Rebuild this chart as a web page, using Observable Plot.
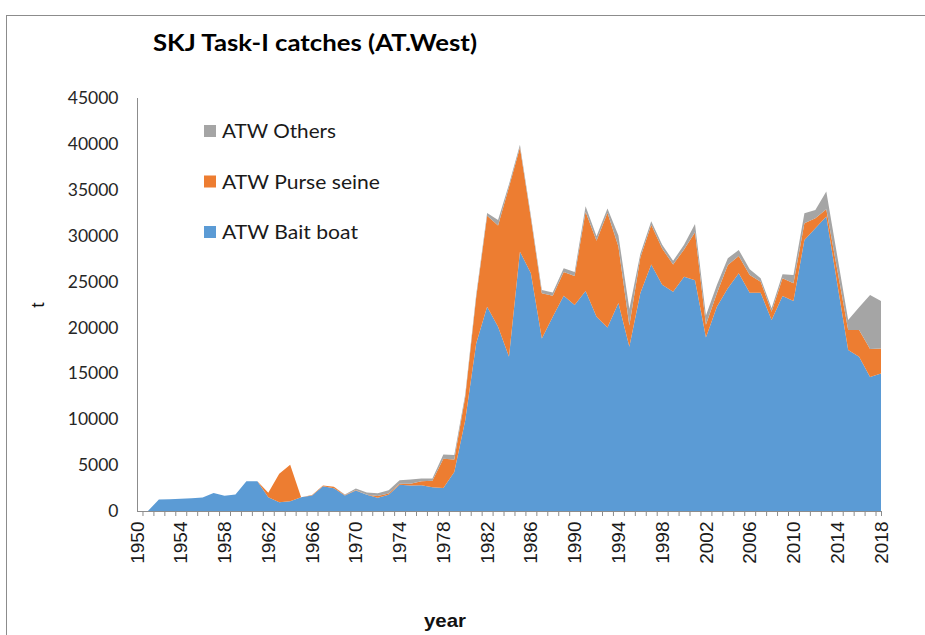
<!DOCTYPE html>
<html><head><meta charset="utf-8">
<script src="https://cdn.jsdelivr.net/npm/d3@7"></script>
<script src="https://cdn.jsdelivr.net/npm/@observablehq/plot@0.6"></script>
<style>
body{margin:0;background:#fff;}
#wrap{position:relative;width:925px;height:635px;overflow:hidden;background:#fff;}
#frame{position:absolute;left:6px;top:15px;width:930px;height:630px;border-top:1px solid #8c8c8c;border-left:1px solid #8c8c8c;}
#chart{position:absolute;left:0;top:0;}
#overlay{position:absolute;left:0;top:0;pointer-events:none;}
</style></head><body>
<div id="wrap"><div id="frame"></div><div id="chart"></div><svg id="overlay" width="925" height="635"></svg></div>
<script>
const years = [1950,1951,1952,1953,1954,1955,1956,1957,1958,1959,1960,1961,1962,1963,1964,1965,1966,1967,1968,1969,
  1970,1971,1972,1973,1974,1975,1976,1977,1978,1979,1980,1981,1982,1983,1984,1985,1986,1987,1988,1989,
  1990,1991,1992,1993,1994,1995,1996,1997,1998,1999,2000,2001,2002,2003,2004,2005,2006,2007,2008,2009,
  2010,2011,2012,2013,2014,2015,2016,2017,2018];
const baitBoat = [0,0,1250,1280,1330,1380,1480,1950,1650,1800,3250,3250,1500,950,1070,1500,1690,2700,2490,1700,
  2240,1770,1440,1770,2860,2780,2800,2600,2500,4250,9880,18250,22260,20070,16800,28260,25900,18800,21170,23460,
  22440,23970,21170,20000,22650,17890,23720,26850,24660,23900,25530,25130,18900,22260,24260,25900,23790,23790,20800,23420,
  22880,29540,30820,32080,24800,17530,16800,14610,14980];
const purseSeine = [0,0,0,0,0,0,0,0,0,0,0,0,500,3100,3970,0,50,80,150,50,
  50,0,200,150,100,200,450,700,3200,1350,2550,5000,9900,11030,18500,11340,6000,4920,2280,2590,
  3160,8630,8280,12500,6170,2310,3880,4340,3940,2960,2970,5240,1400,1460,2550,1890,1930,1200,910,1930,
  1930,1820,1090,810,1500,2180,2910,3030,2730];
const others = [0,0,0,0,0,0,0,0,0,0,0,0,0,0,0,0,0,0,0,50,
  150,250,300,350,400,450,300,250,450,500,300,300,300,600,300,300,300,360,350,400,
  450,600,500,450,1200,1800,400,370,400,400,500,900,1000,900,730,660,620,360,370,440,
  910,1090,900,1920,1500,1090,2480,5890,5170];
const seriesNames = ["ATW Bait boat", "ATW Purse seine", "ATW Others"];
const seriesColors = ["#5b9bd5", "#ed7d31", "#a5a5a5"];
const legendOrder = ["ATW Others", "ATW Purse seine", "ATW Bait boat"];
const yTicks = [0,5000,10000,15000,20000,25000,30000,35000,40000,45000];
const xTickLabels = [1950,1954,1958,1962,1966,1970,1974,1978,1982,1986,1990,1994,1998,2002,2006,2010,2014,2018];
const titleText = "SKJ Task-I catches (AT.West)";
const xLabel = "year";
const yLabel = "t";

const values = [baitBoat, purseSeine, others];
const table = years.flatMap((yr, i) => seriesNames.map((s, k) => ({year: yr, series: s, value: values[k][i]})));
const tickMarks = years.slice(0, -1).map(y => y + 0.5).concat([years[years.length - 1]]);

const axisGray = "#8c8c8c";
const chart = Plot.plot({
  width: 925, height: 635,
  marginLeft: 137, marginRight: 44, marginTop: 98, marginBottom: 124,
  x: {domain: [years[0], years[years.length - 1]]},
  y: {domain: [0, 45000]},
  color: {domain: seriesNames, range: seriesColors},
  style: {background: "transparent"},
  marks: [
    Plot.areaY(table, {x: "year", y: "value", fill: "series", order: seriesNames}),
    Plot.ruleX([years[0]], {stroke: axisGray}),
    Plot.ruleY([0], {stroke: axisGray}),
    Plot.axisY({ticks: yTicks, tickSize: 0, tickPadding: 19, tickFormat: d => String(d), label: null,
      fontSize: 17.5, fontFamily: "Lato", fill: "#262626"}),
    Plot.axisX({ticks: tickMarks, tickSize: 5, tickFormat: () => "", label: null, stroke: axisGray}),
    Plot.axisX({ticks: xTickLabels, tickSize: 0, tickPadding: 10, tickRotate: -90, tickFormat: d => String(d),
      label: null, fontSize: 19, fontFamily: "Liberation Sans", fill: "#1a1a1a"})
  ]
});
document.getElementById("chart").appendChild(chart);

// overlay: title, legend, axis titles
const ov = d3.select("#overlay");
ov.append("text").attr("x", 153).attr("y", 51).attr("font-family", "Lato").attr("font-weight", "bold")
  .attr("font-size", 23).attr("textLength", 324).attr("lengthAdjust", "spacingAndGlyphs").attr("fill", "#000")
  .text(titleText);
const legendWidths = [114, 158, 136];
legendOrder.forEach((name, i) => {
  const cy = 131 + i * 50.5;
  ov.append("rect").attr("x", 204).attr("y", cy - 6).attr("width", 12).attr("height", 12)
    .attr("fill", seriesColors[seriesNames.indexOf(name)]);
  ov.append("text").attr("x", 222).attr("y", cy + 7).attr("font-family", "Lato").attr("font-size", 19)
    .attr("textLength", legendWidths[i]).attr("lengthAdjust", "spacingAndGlyphs").attr("fill", "#1a1a1a").text(name);
});
ov.append("text").attr("transform", "translate(44,305) rotate(-90)").attr("text-anchor", "middle")
  .attr("font-family", "Liberation Sans").attr("font-size", 19).attr("fill", "#111").text(yLabel);
ov.append("text").attr("x", 445).attr("y", 627).attr("text-anchor", "middle")
  .attr("font-family", "Liberation Sans").attr("font-weight", "bold").attr("font-size", 19)
  .attr("textLength", 42).attr("lengthAdjust", "spacingAndGlyphs").attr("fill", "#111").text(xLabel);
</script>
</body></html>
